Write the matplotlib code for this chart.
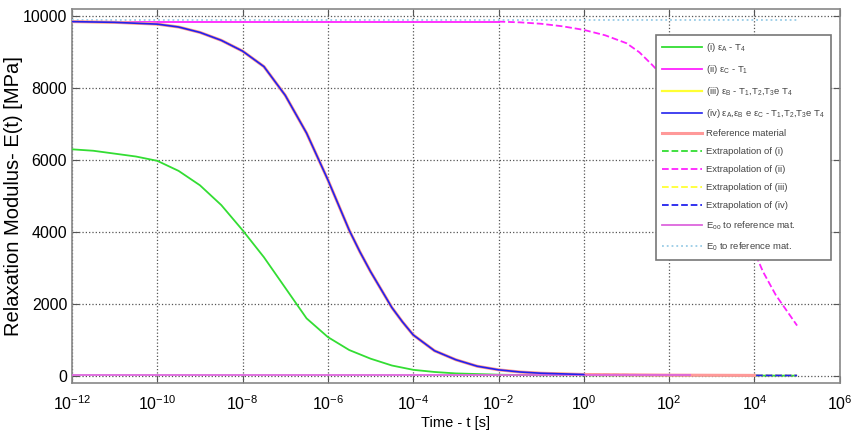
import matplotlib
matplotlib.use('Agg')
from matplotlib import pyplot as plt
import numpy as np

plt.rcParams['font.family'] = ['Liberation Sans', 'DejaVu Sans']
plt.rcParams['mathtext.fontset'] = 'custom'
plt.rcParams['mathtext.rm'] = 'Liberation Sans'
plt.rcParams['mathtext.it'] = 'Liberation Sans'
plt.rcParams['mathtext.default'] = 'regular'

# time is given as log10(t)
# (i) eps_A - T4
logt_i = [-12, -11.5, -11, -10.5, -10, -9.5, -9, -8.5, -8, -7.5, -7, -6.5, -6, -5.5, -5, -4.5, -4, -3.5, -3, -2, -1]
E_i = [6300, 6260, 6180, 6100, 5980, 5700, 5300, 4750, 4050, 3300, 2450, 1600, 1080, 720, 480, 290, 170, 110, 70, 35, 20]
logt_i_ext = [-1, 1, 3, 5]
E_i_ext = [20, 14, 10, 8]

# (ii) eps_C - T1
logt_ii = [-12, -8, -4, -2]
E_ii = [9850, 9850, 9850, 9850]
logt_ii_ext = [-2, -1.5, -1, -0.5, 0, 0.5, 1, 1.3, 1.6, 2, 2.5, 3, 3.5, 4, 4.2, 4.5, 5]
E_ii_ext = [9850, 9830, 9790, 9720, 9620, 9470, 9250, 9000, 8650, 8150, 7350, 6250, 4900, 3450, 2900, 2250, 1400]

# (iii), (iv) and reference material
logt_main = [-12, -11, -10, -9.5, -9, -8.5, -8, -7.5, -7, -6.5, -6, -5.75, -5.5, -5.25, -5,
             -4.75, -4.5, -4.25, -4, -3.5, -3, -2.5, -2, -1.5, -1, 0]
E_main = [9850, 9830, 9780, 9700, 9550, 9330, 9030, 8600, 7800, 6750, 5450, 4750, 4050, 3450, 2900,
          2400, 1900, 1500, 1140, 700, 450, 270, 170, 110, 75, 40]
logt_ref = logt_main + [2, 4]
E_ref = E_main + [22, 15]
logt_ext = [0, 2, 4, 5]
E_ext = [40, 22, 15, 12]

# E_inf and E_0 of reference material
logt_inf = [-12, 2.5]
E_inf = [20, 20]
logt_0 = [-12, 5]
E_0 = [9890, 9890]

green = '#33dd33'
magenta = '#ff22ff'
yellow = '#ffff33'
blue = '#2222ee'
salmon = '#ff9999'
violet = '#dd66dd'
lblue = '#99cce6'


def tt(lg):
    return 10.0 ** np.array(lg)


fig = plt.figure(figsize=(8.54, 4.30), dpi=100)
ax = fig.add_axes([0.0843, 0.109, 0.899, 0.870])

ax.plot(tt(logt_i), E_i, color=green, lw=1.3, zorder=3, label='(i) $\\epsilon_A$ - T$_4$')
ax.plot(tt(logt_ii), E_ii, color=magenta, lw=1.3, zorder=3, label='(ii) $\\epsilon_C$ - T$_1$')
ax.plot(tt(logt_main), E_main, color=yellow, lw=1.6, zorder=3,
        label='(iii) $\\epsilon_B$ - T$_1$,T$_2$,T$_3$e T$_4$')
ax.plot(tt(logt_main), E_main, color=blue, lw=1.2, zorder=5,
        label='(iv) $\\epsilon_A$,$\\epsilon_B$ e $\\epsilon_C$ - T$_1$,T$_2$,T$_3$e T$_4$')
ax.plot(tt(logt_ref), E_ref, color=salmon, lw=2.2, zorder=4, label='Reference material')
ax.plot(tt(logt_i_ext), E_i_ext, color=green, lw=1.3, ls='--', zorder=2, label='Extrapolation of (i)')
ax.plot(tt(logt_ii_ext), E_ii_ext, color=magenta, lw=1.3, ls='--', zorder=3, label='Extrapolation of (ii)')
ax.plot(tt(logt_ext), E_ext, color=yellow, lw=1.3, ls='--', zorder=2, label='Extrapolation of (iii)')
ax.plot(tt(logt_ext), E_ext, color=blue, lw=1.3, ls='--', zorder=3, label='Extrapolation of (iv)')
ax.plot(tt(logt_inf), E_inf, color=violet, lw=1.3, zorder=4, label='E$_{oo}$ to reference mat.')
ax.plot(tt(logt_0), E_0, color=lblue, lw=1.3, ls=':', zorder=3, label='E$_0$ to reference mat.')

ax.set_xscale('log')
ax.set_xlim(1e-12, 1e6)
ax.set_ylim(-200, 10200)
ax.set_xticks([10.0**k for k in range(-12, 7, 2)])
ax.xaxis.set_minor_locator(matplotlib.ticker.NullLocator())
ax.set_yticks([0, 2000, 4000, 6000, 8000, 10000])
ax.grid(True, ls=':', color='#555555', lw=0.9)
ax.tick_params(direction='in', top=True, right=True, labelsize=11.5, length=5, color='#555555')
ax.tick_params(axis='x', pad=8)
for s in ax.spines.values():
    s.set_color('#888888')
    s.set_linewidth(1.2)

ax.set_xlabel('Time - t [s]', fontsize=10.5, labelpad=2)
ax.set_ylabel('Relaxation Modulus- E(t) [MPa]', fontsize=14.5)
ax.yaxis.set_label_coords(-0.064, 0.5)

leg = ax.legend(loc='upper right', bbox_to_anchor=(0.995, 0.944), fontsize=6.8,
                handlelength=4.2, labelspacing=0.95, borderpad=0.7, handletextpad=0.4,
                fancybox=False, framealpha=1, edgecolor='#777777')
leg.get_frame().set_linewidth(1.2)
for txt in leg.get_texts():
    txt.set_color('#444444')

plt.savefig('out.png', dpi=100)
